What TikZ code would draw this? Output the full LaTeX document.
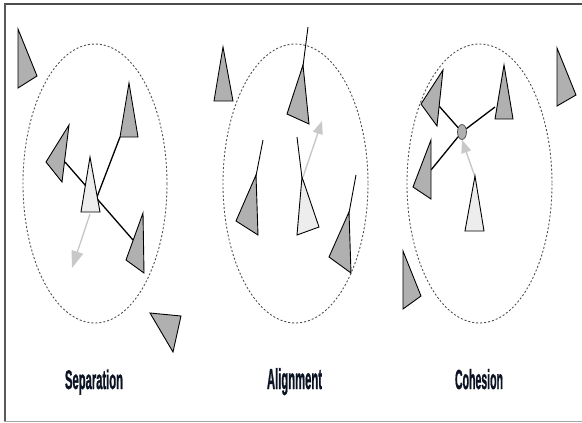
\documentclass[tikz,border=0pt]{standalone}
\usepackage{fontspec}
\setmainfont{Liberation Sans}
\newfontfamily\lblfont[FakeBold=1.5]{Liberation Sans}
\usetikzlibrary{arrows.meta,shapes.geometric}
\definecolor{boidgray}{HTML}{B0B0B0}
\definecolor{boidlight}{HTML}{EDEDED}
\definecolor{arrowgray}{HTML}{C8C8C8}
\definecolor{rangegray}{HTML}{505050}
\definecolor{labelblue}{HTML}{0C1424}
\begin{document}
\begin{tikzpicture}[x=1pt,y=-1pt,
  boid/.style={draw=black,fill=boidgray,line width=0.9pt,line join=miter},
  selfboid/.style={draw=black,fill=boidlight,line width=0.9pt},
  nbrange/.style={draw=rangegray,line width=0.9pt,dash pattern=on 2pt off 2pt},
  boidlink/.style={draw=black,line width=1.3pt},
  headline/.style={draw=black,line width=0.9pt},
  steerarrow/.style={draw=arrowgray,line width=1.4pt,-{Triangle[length=13pt,width=10pt]}},
  lbl/.style={anchor=base,text=labelblue,inner sep=0pt},
  massdot/.style={draw=black!70,fill=boidgray,ellipse,minimum width=9pt,minimum height=15pt,inner sep=0pt,line width=0.7pt}]
\useasboundingbox (0,0) rectangle (582,423);
% frame
\draw[draw=black!70,line width=2pt] (4,4) -- (582,4);
\draw[draw=black!65,line width=1.6pt] (5,4) -- (5,421);
\draw[draw=black!35,line width=1.2pt] (4,421.5) -- (582,421.5);

% ===== Separation =====
\draw[nbrange] (95,183.5) ellipse [x radius=72,y radius=139.5];
\draw[boid] (18,29) -- (37,76) -- (18,88) -- cycle;
\draw[boid] (150,313) -- (181,316) -- (173,352) -- cycle;
\coordinate (s1) at (120,137);
\coordinate (s2) at (65,162);
\coordinate (s3) at (133,240);
\coordinate (sc) at (97,197);
\draw[boidlink] (s1) -- (sc);
\draw[boidlink] (s2) -- (s3);
\draw[boid] (129,83) -- (138,137) -- (120,137) -- cycle;
\draw[boid] (69,125) -- (62,182) -- (46,162) -- cycle;
\draw[boid] (143,213) -- (144,273) -- (126,260) -- cycle;
\draw[selfboid] (90,157) -- (100,212) -- (81,212) -- cycle;
\coordinate (sa0) at (90,214);
\coordinate (sa1) at (72,268);
\draw[steerarrow,-{Triangle[length=17pt,width=12pt]}] (sa0) -- (sa1);
\node[lbl] (lsep) at (94,389) {\resizebox{58pt}{19.5pt}{\lblfont\bfseries Separation}};

% ===== Alignment =====
\draw[nbrange] (295.5,183.5) ellipse [x radius=72.5,y radius=139.5];
\draw[boid] (223,47) -- (233,101) -- (214,101) -- cycle;
\coordinate (h1a) at (308,27); \coordinate (h1b) at (303,66);
\draw[headline] (h1a) -- (h1b);
\draw[boid] (303,65) -- (309,124) -- (287,114) -- cycle;
\coordinate (h2a) at (263,140); \coordinate (h2b) at (256,176);
\draw[headline] (h2a) -- (h2b);
\draw[boid] (256,175) -- (258,235) -- (236,221) -- cycle;
\coordinate (h3a) at (356,175); \coordinate (h3b) at (349,213);
\draw[headline] (h3a) -- (h3b);
\draw[boid] (349,212) -- (351,273) -- (329,257) -- cycle;
\coordinate (h4a) at (297,137); \coordinate (h4b) at (302,178);
\draw[headline] (h4a) -- (h4b);
\coordinate (aa0) at (303,177);
\coordinate (aa1) at (322,121);
\draw[steerarrow] (aa0) -- (aa1);
\draw[selfboid] (302,177) -- (319,227) -- (297,235) -- cycle;
\node[lbl] (lali) at (294.5,389) {\resizebox{55pt}{21pt}{\lblfont\bfseries Alignment}};

% ===== Cohesion =====
\draw[nbrange] (479.5,183.5) ellipse [x radius=72.5,y radius=139.5];
\draw[boid] (557,48) -- (576,95) -- (557,106) -- cycle;
\draw[boid] (403,251) -- (421,296) -- (403,309) -- cycle;
\node[massdot] (cm) at (462,132) {};
\coordinate (c1) at (439,106);
\coordinate (c2) at (495,107);
\coordinate (c3) at (431,170);
\draw[boidlink] (cm) -- (c1);
\draw[boidlink] (cm) -- (c2);
\draw[boidlink] (cm) -- (c3);
\draw[boid] (443,70) -- (437,126) -- (421,104) -- cycle;
\draw[boid] (504,65) -- (513,119) -- (495,119) -- cycle;
\draw[boid] (431,140) -- (431,199) -- (413,187) -- cycle;
\coordinate (ca0) at (475,177);
\draw[steerarrow] (ca0) -- (cm.south);
\draw[selfboid] (475,176) -- (484,231) -- (465,231) -- cycle;
\node[lbl] (lcoh) at (479,389) {\resizebox{48pt}{20pt}{\lblfont\bfseries Cohesion}};
\end{tikzpicture}
\end{document}
